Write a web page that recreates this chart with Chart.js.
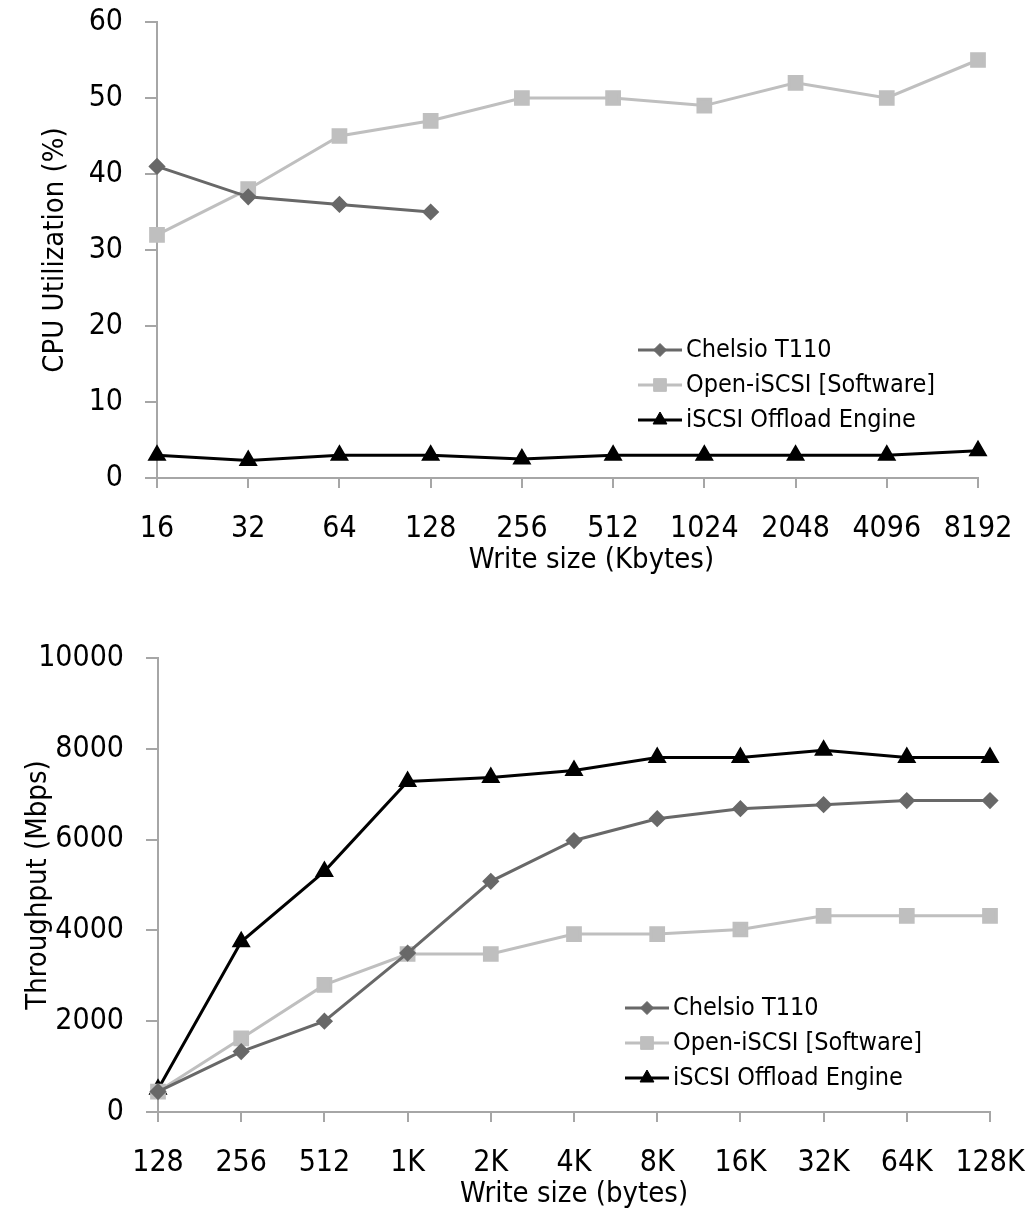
<!DOCTYPE html>
<html>
<head>
<meta charset="utf-8">
<script src="https://cdn.jsdelivr.net/npm/chart.js@4.4.0/dist/chart.umd.min.js"></script>
<style>
  html, body { margin: 0; padding: 0; background: #fff; }
  .box { position: absolute; left: 0; width: 1030px; }
  #topBox { top: 0; height: 600px; }
  #botBox { top: 600px; height: 616px; }
</style>
</head>
<body>
<div class="box" id="topBox"><canvas id="cpuChart"></canvas></div>
<div class="box" id="botBox"><canvas id="tputChart"></canvas></div>
<script>
// CPU utilization vs write size (Kbytes)
const cpuLabels = ['16', '32', '64', '128', '256', '512', '1024', '2048', '4096', '8192'];
const cpuChelsio = [41, 37, 36, 35, null, null, null, null, null, null];
const cpuOpen = [32, 38, 45, 47, 50, 50, 49, 52, 50, 55];
const cpuOffload = [3, 2.3, 3, 3, 2.5, 3, 3, 3, 3, 3.6];

// Throughput vs write size (bytes)
const tputLabels = ['128', '256', '512', '1K', '2K', '4K', '8K', '16K', '32K', '64K', '128K'];
const tputChelsio = [450, 1330, 2000, 3500, 5080, 5980, 6460, 6680, 6770, 6860, 6860];
const tputOpen = [450, 1620, 2800, 3480, 3480, 3920, 3920, 4020, 4320, 4320, 4320];
const tputOffload = [500, 3750, 5300, 7280, 7370, 7520, 7810, 7810, 7970, 7810, 7810];

const seriesNames = ['Chelsio T110', 'Open-iSCSI [Software]', 'iSCSI Offload Engine'];

const FONT = "'Liberation Sans Narrow', 'DejaVu Sans Condensed', 'Arial Narrow', sans-serif";
const AXIS_COLOR = '#a6a6a6';

Chart.defaults.font.family = FONT;
Chart.defaults.color = '#000';

// legend drawn as line + marker + label, like the original spreadsheet chart
const lineLegend = {
    id: 'lineLegend',
    afterDraw(chart, args, opts) {
        const ctx = chart.ctx;
        ctx.save();
        ctx.font = opts.size + 'px ' + FONT;
        ctx.textBaseline = 'middle';
        chart.data.datasets.forEach((ds, i) => {
            const y = opts.y + i * opts.spacing;
            ctx.strokeStyle = ds.borderColor;
            ctx.lineWidth = ds.borderWidth;
            ctx.beginPath();
            ctx.moveTo(opts.x, y);
            ctx.lineTo(opts.x + opts.lineLen, y);
            ctx.stroke();
            ctx.fillStyle = ds.pointBackgroundColor;
            ctx.strokeStyle = ds.pointBorderColor;
            ctx.lineWidth = 1;
            Chart.helpers.drawPoint(ctx, {
                pointStyle: ds.pointStyle,
                radius: ds.pointRadius,
                borderWidth: 1,
                rotation: 0
            }, opts.x + opts.lineLen / 2, y);
            ctx.fillStyle = '#000';
            ctx.fillText(ds.label, opts.x + opts.lineLen + opts.gap, y);
        });
        ctx.restore();
    }
};

// x axis title, centred on the plot with an optional nudge
const xAxisTitle = {
    id: 'xAxisTitle',
    afterDraw(chart, args, opts) {
        const ctx = chart.ctx;
        const a = chart.chartArea;
        ctx.save();
        ctx.font = opts.size + 'px ' + FONT;
        ctx.fillStyle = '#000';
        ctx.textAlign = 'center';
        ctx.textBaseline = 'middle';
        ctx.fillText(opts.text, (a.left + a.right) / 2 + opts.dx, opts.y);
        ctx.restore();
    }
};

function makeDatasets(a, b, c) {
    return [{
        label: seriesNames[0],
        data: a,
        borderColor: '#686868',
        backgroundColor: '#686868',
        pointBackgroundColor: '#686868',
        pointBorderColor: '#686868',
        borderWidth: 3,
        pointStyle: 'rectRot',
        pointRadius: 6.5,
        spanGaps: false,
        clip: false
    }, {
        label: seriesNames[1],
        data: b,
        borderColor: '#bfbfbf',
        backgroundColor: '#bfbfbf',
        pointBackgroundColor: '#bfbfbf',
        pointBorderColor: '#bfbfbf',
        borderWidth: 3,
        pointStyle: 'rect',
        pointRadius: 9,
        clip: false
    }, {
        label: seriesNames[2],
        data: c,
        borderColor: '#000',
        backgroundColor: '#000',
        pointBackgroundColor: '#000',
        pointBorderColor: '#000',
        borderWidth: 3,
        pointStyle: 'triangle',
        pointRadius: 8,
        clip: false
    }];
}

function makeOptions(cfg) {
    return {
        responsive: true,
        maintainAspectRatio: false,
        animation: false,
        events: [],
        layout: { padding: cfg.padding },
        plugins: {
            legend: { display: false },
            tooltip: { enabled: false },
            lineLegend: cfg.legend,
            xAxisTitle: cfg.xTitle
        },
        scales: {
            x: {
                grid: {
                    drawOnChartArea: false,
                    drawTicks: true,
                    tickLength: 10,
                    color: AXIS_COLOR,
                    lineWidth: 2
                },
                border: { color: AXIS_COLOR, width: 2 },
                ticks: { font: { size: 30 }, padding: 23, maxRotation: 0, autoSkip: false },
                afterFit(scale) {
                    scale.height = cfg.xHeight;
                    scale.paddingLeft = 0;
                    scale.paddingRight = 0;
                }
            },
            y: {
                min: 0,
                max: cfg.yMax,
                grid: {
                    drawOnChartArea: false,
                    drawTicks: true,
                    tickLength: 12,
                    color: AXIS_COLOR,
                    lineWidth: 2
                },
                border: { color: AXIS_COLOR, width: 2 },
                ticks: {
                    stepSize: cfg.yStep,
                    font: { size: 30 },
                    padding: 22,
                    callback: (v) => String(v)
                },
                title: {
                    display: true,
                    text: cfg.yTitle,
                    font: { size: 29 },
                    padding: { top: cfg.yTitlePad, bottom: 0 }
                },
                afterFit(scale) {
                    scale.width = cfg.yWidth;
                    scale.paddingTop = 0;
                    scale.paddingBottom = 0;
                }
            }
        }
    };
}

new Chart(document.getElementById('cpuChart'), {
    type: 'line',
    data: { labels: cpuLabels, datasets: makeDatasets(cpuChelsio, cpuOpen, cpuOffload) },
    options: makeOptions({
        padding: { top: 22, right: 52, bottom: 23, left: 0 },
        xTitle: { text: 'Write size (Kbytes)', size: 29, dx: 24, y: 560 },
        yTitle: 'CPU Utilization (%)',
        yMax: 60,
        yStep: 10,
        xHeight: 99,
        yWidth: 157,
        yTitlePad: 38,
        legend: { x: 638, y: 350, spacing: 35, lineLen: 44, gap: 4, size: 25 }
    }),
    plugins: [lineLegend, xAxisTitle]
});

new Chart(document.getElementById('tputChart'), {
    type: 'line',
    data: { labels: tputLabels, datasets: makeDatasets(tputChelsio, tputOpen, tputOffload) },
    options: makeOptions({
        padding: { top: 58, right: 40, bottom: 4, left: 0 },
        xTitle: { text: 'Write size (bytes)', size: 29, dx: 0, y: 594 },
        yTitle: 'Throughput (Mbps)',
        yMax: 10000,
        yStep: 2000,
        xHeight: 100,
        yWidth: 158,
        yTitlePad: 21,
        legend: { x: 625, y: 408, spacing: 35, lineLen: 44, gap: 4, size: 25 }
    }),
    plugins: [lineLegend, xAxisTitle]
});
</script>
</body>
</html>
